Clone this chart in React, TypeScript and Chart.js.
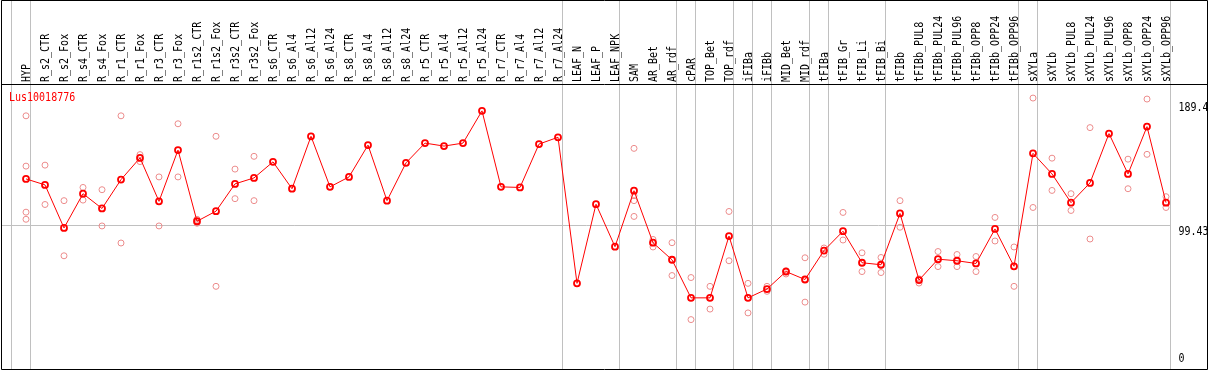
import { useEffect, useRef } from "react";
import { Chart, registerables } from "chart.js";

Chart.register(...registerables);

const geneName = "Lus10018776";

const categories = [
  "HYP", "R_s2_CTR", "R_s2_Fox", "R_s4_CTR", "R_s4_Fox", "R_r1_CTR", "R_r1_Fox", "R_r3_CTR", "R_r3_Fox",
  "R_r1s2_CTR", "R_r1s2_Fox", "R_r3s2_CTR", "R_r3s2_Fox", "R_s6_CTR", "R_s6_Al4", "R_s6_Al12", "R_s6_Al24",
  "R_s8_CTR", "R_s8_Al4", "R_s8_Al12", "R_s8_Al24", "R_r5_CTR", "R_r5_Al4", "R_r5_Al12", "R_r5_Al24",
  "R_r7_CTR", "R_r7_Al4", "R_r7_Al12", "R_r7_Al24", "LEAF_N", "LEAF_P", "LEAF_NPK", "SAM", "AR_Bet", "AR_rdf",
  "cPAR", "TOP_Bet", "TOP_rdf", "iFIBa", "iFIBb", "MID_Bet", "MID_rdf", "tFIBa", "tFIB_Gr", "tFIB_Li", "tFIB_Bi",
  "tFIBb", "tFIBb_PUL8", "tFIBb_PUL24", "tFIBb_PUL96", "tFIBb_OPP8", "tFIBb_OPP24", "tFIBb_OPP96",
  "sXYLa", "sXYLb", "sXYLb_PUL8", "sXYLb_PUL24", "sXYLb_PUL96", "sXYLb_OPP8", "sXYLb_OPP24", "sXYLb_OPP96",
];

const meanValues = [
  132.5, 128.3, 98.0, 122.1, 111.7, 132.0, 147.3, 116.7, 152.8, 102.7, 109.8, 129.0, 133.2,
  144.5, 125.6, 162.5, 126.9, 133.9, 156.3, 117.2, 143.8, 157.7, 155.6, 157.7, 180.4, 126.9, 126.5, 157.0, 161.8,
  59.0, 114.7, 84.8, 124.2, 87.6, 75.6, 48.8, 48.8, 92.3, 48.8, 55.0, 67.3, 61.7, 82.1, 95.7, 73.5, 72.1,
  108.2, 61.3, 76.0, 74.9, 73.0, 97.3, 71.0, 150.5, 136.0, 115.8, 129.7, 164.4, 136.0, 169.3, 115.8,
];

const replicateA = [
  176.9, 142.2, 117.2, 126.5, 124.9, 176.9, 149.6, 133.9, 171.3, 104.1, 162.5, 139.4, 148.4,
  null, null, null, null, null, null, null, null, null, null, null, null, null, null, null, null, null, null, null,
  154.0, 89.9, 87.6, 63.1, 56.9, 109.6, 59.0, 56.9, 68.0, 77.0, 83.9, 108.9, 80.5, 77.2,
  117.2, 62.2, 81.4, 79.3, 77.9, 105.4, 84.6, 189.4, 147.1, 122.1, 168.6, null, 146.4, 188.7, 120.0,
];

const replicateB = [
  141.5, 114.5, 78.4, 117.6, 99.4, 87.4, 144.7, 99.4, 133.9, 101.3, 56.9, 118.6, 117.2,
  null, null, null, null, null, null, null, null, null, null, null, null, null, null, null, null, null, null, null,
  120.7, 84.6, 64.5, 33.5, 40.9, 74.9, 38.2, 53.4, 65.6, 45.8, 79.5, 89.5, 67.3, 66.6,
  98.5, 59.2, 70.8, 70.8, 67.3, 88.8, 56.9, 112.4, 124.4, 110.3, 90.2, null, 125.6, 149.8, 112.4,
];

const replicateC = [
  109.1, null, null, null, null, null, null, null, null, null, null, null, null,
  null, null, null, null, null, null, null, null, null, null, null, null, null, null, null, null, null, null, null,
  117.2, null, null, null, null, null, null, null, null, null, null, null, null, null,
  null, null, null, null, null, null, null, null, null, null, null, null, null, null, null,
];

const replicateD = [
  104.1, null, null, null, null, null, null, null, null, null, null, null, null,
  null, null, null, null, null, null, null, null, null, null, null, null, null, null, null, null, null, null, null,
  106.1, null, null, null, null, null, null, null, null, null, null, null, null, null,
  null, null, null, null, null, null, null, null, null, null, null, null, null, null, null,
];

const yTickValues = [189.4, 99.43, 0];
const yTickLabels = ["189.4", "99.43", "0"];
const yAxisMax = 198.87;

// group separators are drawn after these category indices (-1 = before the first)
const groupBreaksAfter = [-1, 0, 28, 31, 34, 35, 37, 38, 39, 41, 42, 45, 52, 53, 60];

const FONT = '10px "DejaVu Sans Mono", monospace';
const GLYPH_STRETCH = 1.15;
const W = 1209;
const H = 372;

function tallText(ctx: CanvasRenderingContext2D, text: string, x: number, y: number) {
  ctx.save();
  ctx.translate(x, y);
  ctx.scale(1, GLYPH_STRETCH);
  ctx.fillText(text, 0, 0);
  ctx.restore();
}

export default function App() {
  const ref = useRef<HTMLCanvasElement>(null);

  useEffect(() => {
    const canvas = ref.current;
    if (!canvas) return;

    const decor = {
      id: "decor",
      beforeDatasetsDraw(chart: any) {
        const { ctx, chartArea, scales } = chart;
        const xs = scales.x;
        const ys = scales.y;
        const x0 = xs.getPixelForValue(0);
        const step = xs.getPixelForValue(1) - x0;
        ctx.save();
        ctx.lineWidth = 1;
        ctx.strokeStyle = "#c0c0c0";
        let lastSep = 0;
        groupBreaksAfter.forEach((i) => {
          const px = Math.floor(x0 + i * step + step * 0.22) + 0.5;
          lastSep = Math.max(lastSep, px);
          ctx.beginPath();
          ctx.moveTo(px, 0);
          ctx.lineTo(px, H - 3);
          ctx.stroke();
        });
        const my = Math.floor(ys.getPixelForValue(yTickValues[1])) + 0.5;
        ctx.beginPath();
        ctx.moveTo(2, my);
        ctx.lineTo(lastSep, my);
        ctx.stroke();

        // frame
        ctx.strokeStyle = "#000";
        const top = 0.5;
        const hdr = Math.floor(chartArea.top) + 0.5;
        const bottom = H - 2.5;
        const left = 1.5;
        const right = W - 1.5;
        ctx.beginPath();
        ctx.moveTo(left, top);
        ctx.lineTo(right, top);
        ctx.moveTo(left, hdr);
        ctx.lineTo(right, hdr);
        ctx.moveTo(left, bottom);
        ctx.lineTo(right, bottom);
        ctx.moveTo(left, top);
        ctx.lineTo(left, bottom);
        ctx.moveTo(right, top);
        ctx.lineTo(right, bottom);
        ctx.stroke();
        ctx.restore();
      },
      afterDraw(chart: any) {
        const { ctx, chartArea, scales } = chart;
        const xs = scales.x;
        const ys = scales.y;
        ctx.save();
        ctx.font = FONT;
        ctx.fillStyle = "#000";
        ctx.textAlign = "left";
        ctx.textBaseline = "alphabetic";
        categories.forEach((c, i) => {
          const px = xs.getPixelForValue(i);
          ctx.save();
          ctx.translate(Math.round(px) + 4, Math.floor(chartArea.top) - 2);
          ctx.rotate(-Math.PI / 2);
          tallText(ctx, c, 0, 0);
          ctx.restore();
        });
        // right-hand value labels
        const lx = chartArea.right + 3;
        tallText(ctx, yTickLabels[0], lx, ys.getPixelForValue(yTickValues[0]) + 13);
        tallText(ctx, yTickLabels[1], lx, ys.getPixelForValue(yTickValues[1]) + 9);
        tallText(ctx, yTickLabels[2], lx, ys.getPixelForValue(yTickValues[2]) - 5);
        // gene name
        ctx.fillStyle = "#ff0000";
        tallText(ctx, geneName, 9, chartArea.top + 16);
        ctx.restore();
      },
    };

    const repStyle = {
      type: "line" as const,
      showLine: false,
      pointRadius: 3,
      pointHoverRadius: 3,
      pointBorderWidth: 1,
      pointBorderColor: "rgb(236,140,140)",
      pointBackgroundColor: "rgba(0,0,0,0)",
      borderColor: "rgb(236,140,140)",
      order: 2,
    };

    const chart = new Chart(canvas, {
      type: "line",
      data: {
        labels: categories,
        datasets: [
          { ...repStyle, label: "rep A", data: replicateA },
          { ...repStyle, label: "rep B", data: replicateB },
          { ...repStyle, label: "rep C", data: replicateC },
          { ...repStyle, label: "rep D", data: replicateD },
          {
            label: geneName,
            data: meanValues,
            borderColor: "#ff0000",
            borderWidth: 1,
            pointRadius: 3,
            pointHoverRadius: 3,
            pointBorderWidth: 1.8,
            pointBorderColor: "#ff0000",
            pointBackgroundColor: "rgba(0,0,0,0)",
            tension: 0,
            order: 0,
          },
        ],
      },
      options: {
        animation: false,
        responsive: false,
        devicePixelRatio: 1,
        events: [],
        layout: { padding: { left: 16.5, right: W - 1175.5, top: 84.6, bottom: H - 371.3 } },
        scales: {
          x: { type: "category", offset: true, display: false },
          y: { type: "linear", min: 0, max: yAxisMax, display: false },
        },
        plugins: { legend: { display: false }, tooltip: { enabled: false }, title: { display: false } },
      },
      plugins: [decor],
    });

    return () => chart.destroy();
  }, []);

  return (
    <div style={{ position: "fixed", left: 0, top: 0, width: W, height: H, background: "#fff", overflow: "hidden" }}>
      <canvas ref={ref} width={W} height={H} style={{ display: "block" }} />
    </div>
  );
}
